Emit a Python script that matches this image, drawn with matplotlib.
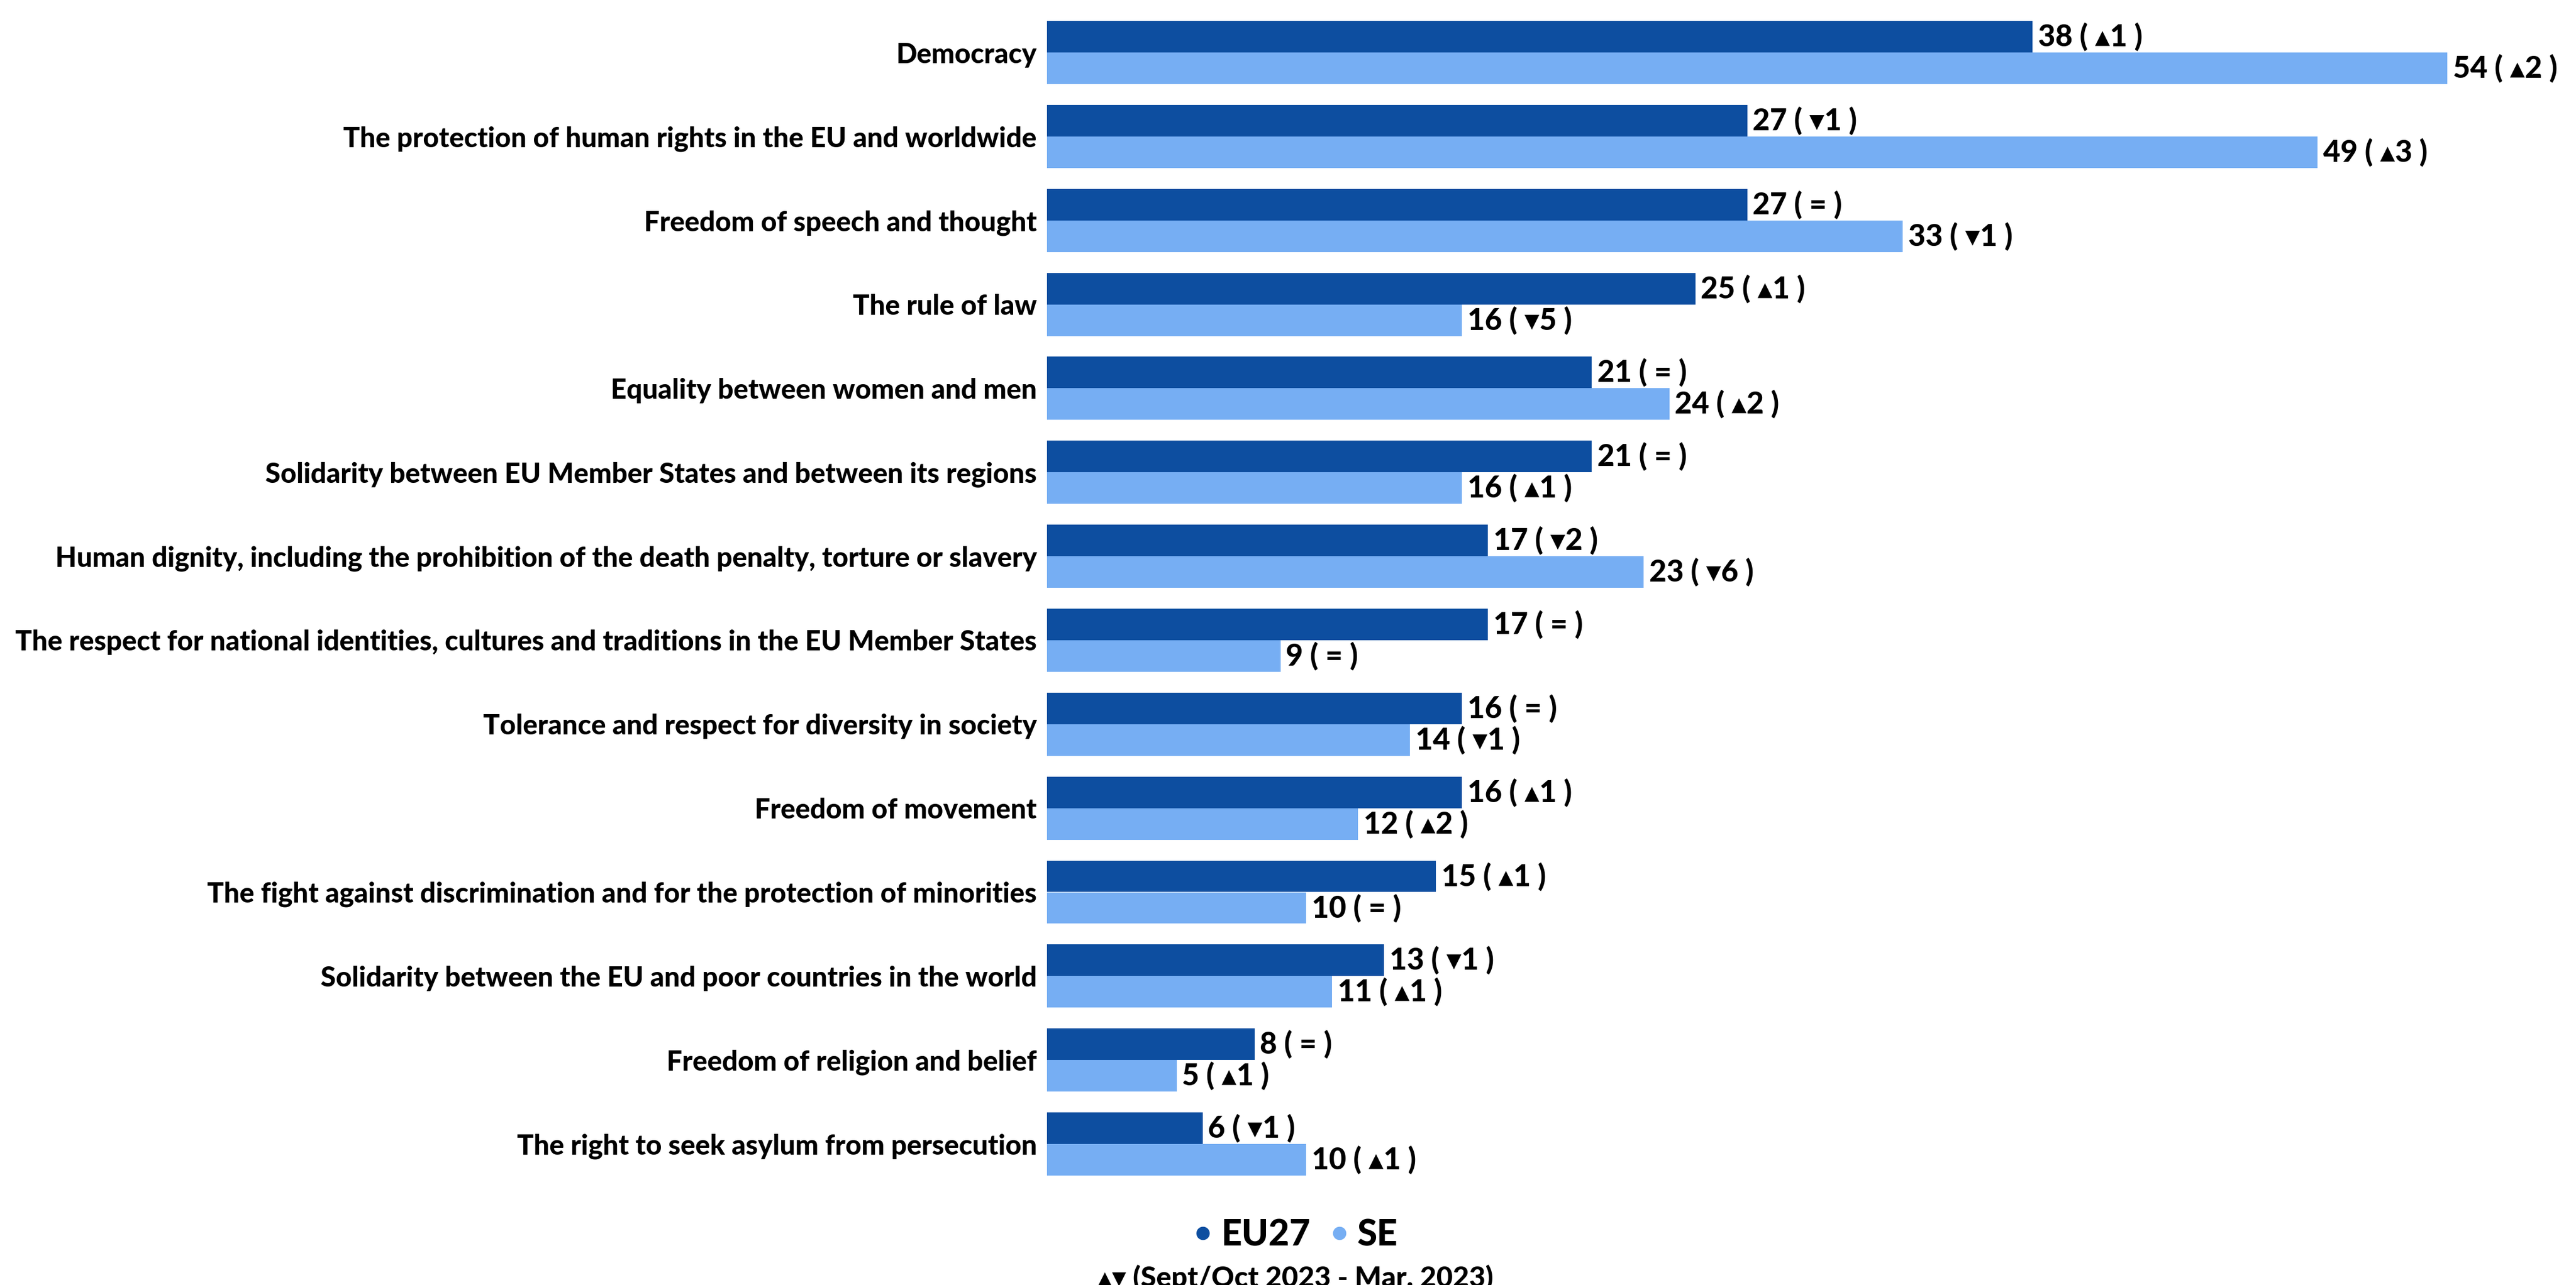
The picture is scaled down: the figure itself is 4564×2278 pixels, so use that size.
import matplotlib
matplotlib.use("Agg")
import matplotlib.pyplot as plt
from matplotlib.lines import Line2D
import numpy as np

categories = [
    "Democracy",
    "The protection of human rights in the EU and worldwide",
    "Freedom of speech and thought",
    "The rule of law",
    "Equality between women and men",
    "Solidarity between EU Member States and between its regions",
    "Human dignity, including the prohibition of the death penalty, torture or slavery",
    "The respect for national identities, cultures and traditions in the EU Member States",
    "Tolerance and respect for diversity in society",
    "Freedom of movement",
    "The fight against discrimination and for the protection of minorities",
    "Solidarity between the EU and poor countries in the world",
    "Freedom of religion and belief",
    "The right to seek asylum from persecution",
]
eu27 = [38, 27, 27, 25, 21, 21, 17, 17, 16, 16, 15, 13, 8, 6]
eu27_change = [1, -1, 0, 1, 0, 0, -2, 0, 0, 1, 1, -1, 0, -1]
se = [54, 49, 33, 16, 24, 16, 23, 9, 14, 12, 10, 11, 5, 10]
se_change = [2, 3, -1, -5, 2, 1, -6, 0, -1, 2, 0, 1, 1, 1]
series_names = ["EU27", "SE"]
legend_note = "▴▾ (Sept/Oct 2023 - Mar. 2023)"

C_EU = "#0D4EA0"
C_SE = "#76AEF3"
FONT = ["Lato", "DejaVu Sans"]
plt.rcParams["font.family"] = FONT

W, H = 4564, 2278
fig = plt.figure(figsize=(W / 100, H / 100), dpi=100)
ax = fig.add_axes([1855 / W, 0, 1 - 1855 / W, 1])

y = np.arange(len(categories))
bh = 0.376
ax.barh(y - bh / 2, eu27, height=bh, color=C_EU)
ax.barh(y + bh / 2, se, height=bh, color=C_SE)


def fmt(v, c):
    if c > 0:
        ch = "▴" + str(c)
    elif c < 0:
        ch = "▾" + str(-c)
    else:
        ch = "="
    return f"{v} ( {ch} )"


for yi, v, c in zip(y - bh / 2, eu27, eu27_change):
    ax.annotate(fmt(v, c), (v, yi), xytext=(7, 0), textcoords="offset points",
                va="center", ha="left", fontsize=38, fontweight=900,
                family=FONT, color="black")
for yi, v, c in zip(y + bh / 2, se, se_change):
    ax.annotate(fmt(v, c), (v, yi), xytext=(7, 0), textcoords="offset points",
                va="center", ha="left", fontsize=38, fontweight=900,
                family=FONT, color="black")

px_per_cat = 148.85
top_i = -93 / px_per_cat
bot_i = (H - 93) / px_per_cat
ax.set_ylim(bot_i, top_i)
xmax = (W - 1855) / (1746 / 38)
ax.set_xlim(0, xmax)

ax.set_yticks(y)
ax.set_yticklabels(categories, fontsize=35.2, fontweight=900)
ax.tick_params(axis="y", length=0, pad=13)
ax.set_xticks([])
for s in ax.spines.values():
    s.set_visible(False)

handles = [Line2D([], [], marker="o", ls="", color=C_EU, markersize=16),
           Line2D([], [], marker="o", ls="", color=C_SE, markersize=16)]
leg = fig.legend(handles, series_names, loc="center", ncol=2,
                 bbox_to_anchor=(0.502, 1 - 2190 / H), frameon=False,
                 prop={"size": 46, "weight": 900}, handletextpad=0.1,
                 columnspacing=0.4, handlelength=0.8)
fig.text(0.503, 1 - 2242 / H, legend_note, ha="center", va="top",
         fontsize=36, fontweight=900, family=FONT)

fig.savefig("out.png", dpi=100)
